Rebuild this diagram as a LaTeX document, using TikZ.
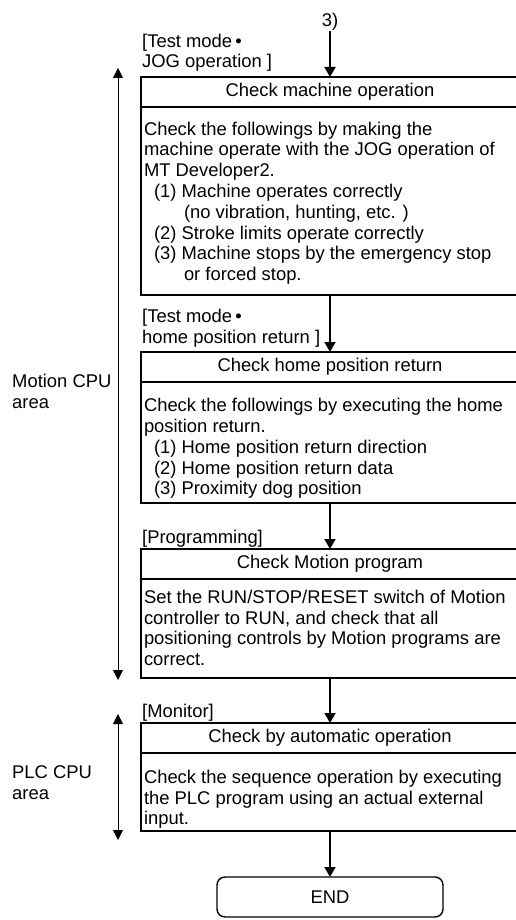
\documentclass[tikz,border=0pt]{standalone}
\usepackage{fontspec}
\setmainfont{Liberation Sans}
\usetikzlibrary{arrows.meta}

\newcommand{\boxtext}[3]{\parbox[c][#1][t]{372pt}{\rule{0pt}{#2}#3}}

\begin{document}
\begin{tikzpicture}[x=1pt, y=-1pt,
    every node/.style={font=\fontsize{18.4}{20.8}\selectfont},
    head/.style={draw, line width=1.8pt, anchor=north, outer sep=0pt,
        minimum width=378pt, minimum height=30pt, inner sep=0pt},
    body/.style={draw, line width=1.4pt, anchor=north, outer sep=0pt,
        inner xsep=3pt, inner ysep=0pt},
    lbl/.style={anchor=base west, align=left, inner sep=0pt},
    flow/.style={-{Triangle[length=10pt,width=11pt]}, line width=1.8pt},
    span/.style={{Triangle[length=10pt,width=10pt]}-{Triangle[length=10pt,width=10pt]},
        line width=0.9pt}]
    \useasboundingbox (0,0) rectangle (516,920);

    % Entry
    \node[lbl, anchor=south] (three) at (330,31) {3)};

    % JOG operation
    \node[lbl] (jogmode) at (142,68) {[Test mode\,•\\JOG operation ]};
    \node[head] (machhead) at (330,77) {Check machine operation};
    \node[body] (machbody) at (machhead.south) {\boxtext{188pt}{28pt}{%
        Check the followings by making the\\
        machine operate with the JOG operation of\\
        MT Developer2.\\
        \hspace*{10pt}(1) Machine operates correctly\\
        \hspace*{40pt}(no vibration, hunting, etc. )\\
        \hspace*{10pt}(2) Stroke limits operate correctly\\
        \hspace*{10pt}(3) Machine stops by the emergency stop\\
        \hspace*{40pt}or forced stop.}};

    % Home position return
    \node[lbl] (hprmode) at (142,343) {[Test mode\,•\\home position return ]};
    \node[head] (homehead) at (330,352) {Check home position return};
    \node[body] (homebody) at (homehead.south) {\boxtext{121pt}{29.7pt}{%
        Check the followings by executing the home\\
        position return.\\
        \hspace*{10pt}(1) Home position return direction\\
        \hspace*{10pt}(2) Home position return data\\
        \hspace*{10pt}(3) Proximity dog position}};

    % Programming
    \node[lbl] (progmode) at (142,543) {[Programming]};
    \node[head] (proghead) at (330,549) {Check Motion program};
    \node[body] (progbody) at (proghead.south) {\boxtext{99pt}{24.3pt}{%
        Set the RUN/STOP/RESET switch of Motion\\
        controller to RUN, and check that all\\
        positioning controls by Motion programs are\\
        correct.}};

    % Monitor
    \node[lbl] (monmode) at (142,717) {[Monitor]};
    \node[head] (autohead) at (330,723) {Check by automatic operation};
    \node[body] (autobody) at (autohead.south) {\boxtext{78pt}{30.3pt}{%
        Check the sequence operation by executing\\
        the PLC program using an actual external\\
        input.}};

    % End
    \node[draw, line width=1.4pt, rounded corners=8pt, outer sep=0pt,
        minimum width=226pt, minimum height=40pt] (finish) at (330,897) {END};

    % Flow
    \draw[flow] (three.south) -- (machhead.north);
    \draw[flow] (machbody.south) -- (homehead.north);
    \draw[flow] (homebody.south) -- (proghead.north);
    \draw[flow] (progbody.south) -- (autohead.north);
    \draw[flow] (autobody.south) -- (finish.north);

    % Areas
    \coordinate (motiontop) at (118,68);
    \coordinate (motionbot) at (118,680);
    \coordinate (plctop) at (118,714);
    \coordinate (plcbot) at (118,840);
    \draw[span] (motiontop) -- (motionbot);
    \draw[span] (plctop) -- (plcbot);
    \node[lbl] (motionarea) at (12,408) {Motion CPU\\area};
    \node[lbl] (plcarea) at (12,799) {PLC CPU\\area};
\end{tikzpicture}
\end{document}
